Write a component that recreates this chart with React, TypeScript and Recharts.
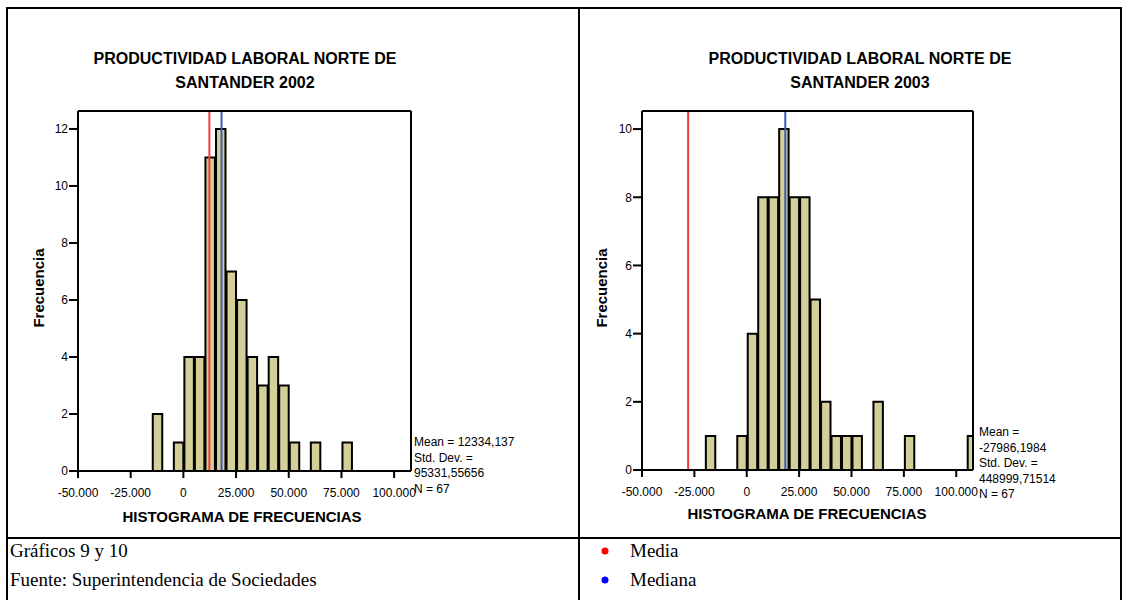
import { BarChart, Bar, XAxis, YAxis, ReferenceLine } from "recharts";

// Histogram bins (mid-point of each 5.000 wide class) and frequencies
const binMid2002 = [-12500, -2500, 2500, 7500, 12500, 17500, 22500, 27500, 32500, 37500, 42500, 47500, 52500, 62500, 77500];
const freq2002 = [2, 1, 4, 4, 11, 12, 7, 6, 4, 3, 4, 3, 1, 1, 1];

const binMid2003 = [-17500, -2500, 2500, 7500, 12500, 17500, 22500, 27500, 32500, 37500, 42500, 47500, 52500, 62500, 77500, 107500];
const freq2003 = [1, 1, 4, 8, 8, 10, 8, 8, 5, 2, 1, 1, 1, 2, 1, 1];

const xTicks = [-50000, -25000, 0, 25000, 50000, 75000, 100000];
const yTicks2002 = [0, 2, 4, 6, 8, 10, 12];
const yTicks2003 = [0, 2, 4, 6, 8, 10];

const mean2002 = 12334.137;
const median2002 = 18100;
const mean2003 = -27986.1984;
const median2003 = 18400;

const stats2002 = ["Mean = 12334,137", "Std. Dev. =", "95331,55656", "N = 67"];
const stats2003 = ["Mean =", "-27986,1984", "Std. Dev. =", "448999,71514", "N = 67"];

const BIN_WIDTH = 5000;
const X_MIN = -50000;
const X_MAX = 108000;

const W = 1122;
const H = 600;
const SANS = "'Liberation Sans', Arial, sans-serif";
const SERIF = "'Liberation Serif', 'Times New Roman', serif";

// axis band sizes (space reserved around the plot box for ticks)
const Y_AXIS_W = 40;
const X_AXIS_H = 30;
const FRAME_AXIS = 1;

const fmtMiles = (v: number) => {
  const s = Math.abs(v).toString().replace(/\B(?=(\d{3})+(?!\d))/g, ".");
  return (v < 0 ? "-" : "") + s;
};

type Box = { left: number; right: number; top: number; bottom: number };

function Histogram({
  mids,
  freqs,
  yMax,
  yTicks,
  mean,
  median,
  box,
}: {
  mids: number[];
  freqs: number[];
  yMax: number;
  yTicks: number[];
  mean: number;
  median: number;
  box: Box;
}) {
  const rows = mids.map((mid, i) => ({ mid, freq: freqs[i] }));
  const barPx = ((box.right - box.left) * BIN_WIDTH) / (X_MAX - X_MIN);
  const tickStyle = { fill: "#000", fontSize: 12, fontFamily: SANS };
  const frame = { stroke: "#000", strokeWidth: 2 };

  return (
    <BarChart
      width={W}
      height={H}
      data={rows}
      margin={{
        top: box.top - FRAME_AXIS,
        left: box.left - Y_AXIS_W,
        right: W - box.right - FRAME_AXIS,
        bottom: H - box.bottom - X_AXIS_H,
      }}
      style={{ position: "absolute", left: 0, top: 0 }}
    >
      <XAxis
        dataKey="mid"
        type="number"
        domain={[X_MIN, X_MAX]}
        allowDataOverflow
        ticks={xTicks}
        interval={0}
        height={X_AXIS_H}
        tickSize={7}
        tickMargin={10}
        tick={tickStyle}
        tickLine={{ stroke: "#000", strokeWidth: 2 }}
        axisLine={frame}
        tickFormatter={fmtMiles}
      />
      <XAxis
        xAxisId="top"
        orientation="top"
        type="number"
        domain={[X_MIN, X_MAX]}
        allowDataOverflow
        height={FRAME_AXIS}
        tick={false}
        tickLine={false}
        axisLine={frame}
      />
      <YAxis
        type="number"
        domain={[0, yMax]}
        allowDataOverflow
        ticks={yTicks}
        interval={0}
        width={Y_AXIS_W}
        tickSize={9}
        tickMargin={1}
        tick={tickStyle}
        tickLine={{ stroke: "#000", strokeWidth: 2 }}
        axisLine={frame}
      />
      <YAxis
        yAxisId="right"
        orientation="right"
        type="number"
        domain={[0, yMax]}
        allowDataOverflow
        width={FRAME_AXIS}
        tick={false}
        tickLine={false}
        axisLine={frame}
      />
      <Bar dataKey="freq" fill="#d4cf98" stroke="#000" strokeWidth={2} barSize={barPx} isAnimationActive={false} />
      <ReferenceLine x={mean} stroke="#f23c3c" strokeWidth={2} />
      <ReferenceLine x={median} stroke="#3c5cb6" strokeWidth={2} />
    </BarChart>
  );
}

function Stats({ lines, x, y }: { lines: string[]; x: number; y: number }) {
  return (
    <text x={x} y={y} fontFamily={SANS} fontSize={12} fill="#000">
      {lines.map((l, i) => (
        <tspan key={i} x={x} dy={i === 0 ? 0 : 15.6}>
          {l}
        </tspan>
      ))}
    </text>
  );
}

export default function App() {
  const box2002: Box = { left: 78, right: 411, top: 111, bottom: 471 };
  const box2003: Box = { left: 642, right: 973, top: 111, bottom: 470 };

  return (
    <div style={{ position: "absolute", left: 0, top: 0, width: W, height: H, background: "#fff", overflow: "hidden" }}>
      <svg width={W} height={H} style={{ position: "absolute", left: 0, top: 0 }}>
        {/* table rules */}
        <g fill="#000">
          <rect x={6} y={7} width={W - 6} height={2} />
          <rect x={6} y={7} width={2} height={H - 7} />
          <rect x={578} y={7} width={2} height={H - 7} />
          <rect x={W - 2} y={7} width={2} height={H - 7} />
          <rect x={6} y={537} width={W - 6} height={2} />
        </g>

        {/* chart titles */}
        <g fontFamily={SANS} fontWeight="bold" fontSize={16} textAnchor="middle" fill="#000">
          <text x={245} y={64}>PRODUCTIVIDAD LABORAL NORTE DE</text>
          <text x={245} y={88}>SANTANDER 2002</text>
          <text x={860} y={64}>PRODUCTIVIDAD LABORAL NORTE DE</text>
          <text x={860} y={88}>SANTANDER 2003</text>
        </g>

        {/* axis titles */}
        <g fontFamily={SANS} fontWeight="bold" fontSize={15} textAnchor="middle" fill="#000">
          <text transform="translate(44 288) rotate(-90)">Frecuencia</text>
          <text transform="translate(607 288) rotate(-90)">Frecuencia</text>
          <text x={242} y={522}>HISTOGRAMA DE FRECUENCIAS</text>
          <text x={807} y={519}>HISTOGRAMA DE FRECUENCIAS</text>
        </g>

        <Stats lines={stats2002} x={414} y={446} />
        <Stats lines={stats2003} x={979} y={436} />

        {/* footer */}
        <g fontFamily={SERIF} fontSize={19} fill="#000">
          <text x={10} y={557}>Gráficos 9 y 10</text>
          <text x={10} y={586}>Fuente: Superintendencia de Sociedades</text>
          <circle cx={605} cy={551} r={3.5} fill="#ff0000" />
          <text x={630} y={557}>Media</text>
          <circle cx={605} cy={580} r={3.5} fill="#0000ff" />
          <text x={630} y={586}>Mediana</text>
        </g>
      </svg>

      <Histogram mids={binMid2002} freqs={freq2002} yMax={12.63} yTicks={yTicks2002} mean={mean2002} median={median2002} box={box2002} />
      <Histogram mids={binMid2003} freqs={freq2003} yMax={10.53} yTicks={yTicks2003} mean={mean2003} median={median2003} box={box2003} />
    </div>
  );
}
